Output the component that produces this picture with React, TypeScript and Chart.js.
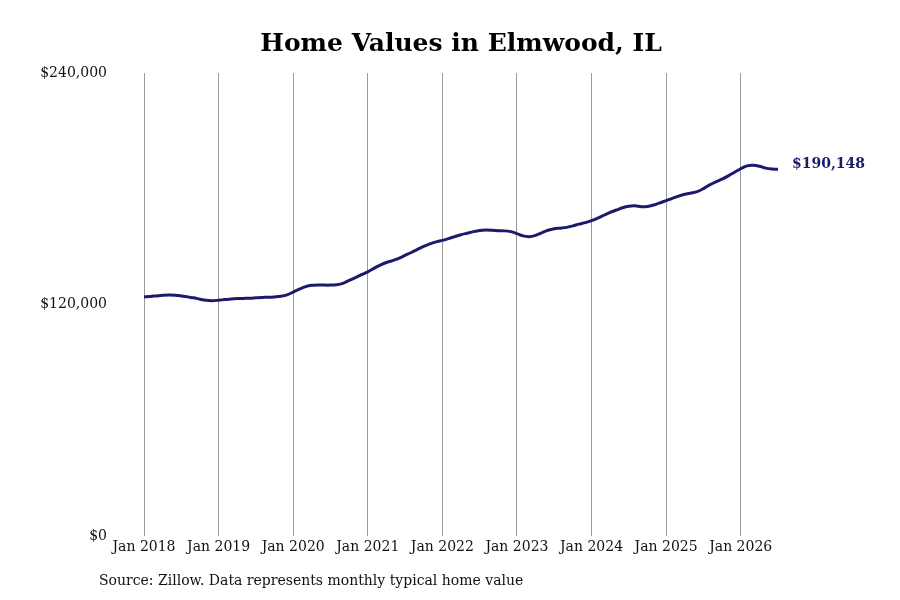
import { useEffect, useRef } from "react";
import { Chart, registerables } from "chart.js";

Chart.register(...registerables);

const startYear = 2018;
const monthNames = ["Jan", "Feb", "Mar", "Apr", "May", "Jun", "Jul", "Aug", "Sep", "Oct", "Nov", "Dec"];

// typical home value, thousands of dollars, Jan 2018 .. Jul 2026
const values2018 = [124.0, 124.2, 124.5, 124.8, 125.0, 124.9, 124.5, 124.0, 123.5, 122.8, 122.2, 122.0];
const values2019 = [122.3, 122.6, 122.9, 123.1, 123.2, 123.3, 123.5, 123.7, 123.8, 124.0, 124.3, 125.0];
const values2020 = [126.5, 128.0, 129.3, 130.0, 130.2, 130.1, 130.1, 130.3, 131.0, 132.5, 134.0, 135.5];
const values2021 = [137.0, 138.8, 140.5, 141.8, 142.8, 144.0, 145.5, 147.0, 148.6, 150.2, 151.5, 152.5];
const values2022 = [153.3, 154.2, 155.2, 156.2, 157.0, 157.8, 158.4, 158.6, 158.5, 158.3, 158.2, 157.8];
const values2023 = [156.8, 155.6, 155.2, 155.9, 157.2, 158.5, 159.3, 159.6, 160.0, 160.8, 161.7, 162.5];
const values2024 = [163.5, 164.8, 166.3, 167.8, 169.0, 170.2, 171.0, 171.2, 170.7, 170.8, 171.6, 172.7];
const values2025 = [173.9, 175.0, 176.2, 177.2, 177.8, 178.5, 180.1, 182.0, 183.6, 185.0, 186.7, 188.6];
const values2026 = [190.4, 191.9, 192.2, 191.7, 190.7, 190.2, 190.148];

const homeValues = [
  ...values2018, ...values2019, ...values2020, ...values2021, ...values2022,
  ...values2023, ...values2024, ...values2025, ...values2026,
].map((v) => Math.round(v * 1000));

const monthLabels = homeValues.map(
  (_, i) => `${monthNames[i % 12]} ${startYear + Math.floor(i / 12)}`
);

const yTicks = [0, 120000, 240000];

const title = "Home Values in Elmwood, IL";
const source = "Source: Zillow. Data represents monthly typical home value";

const lineColor = "#1c1a6b";
const fontFamily = "'DejaVu Serif', serif";

const fmt = (v: number) => "$" + v.toLocaleString("en-US");

// title over the plot area, label next to the final point, source note
const extrasPlugin = {
  id: "extras",
  afterDraw(chart: any) {
    const { ctx, chartArea } = chart;
    ctx.save();

    ctx.font = `bold 25px ${fontFamily}`;
    ctx.fillStyle = "#000";
    ctx.textAlign = "center";
    ctx.textBaseline = "middle";
    ctx.fillText(title, (chartArea.left + chartArea.right) / 2, 44);

    const meta = chart.getDatasetMeta(0);
    const last = meta.data[meta.data.length - 1];
    ctx.font = `bold 14px ${fontFamily}`;
    ctx.fillStyle = lineColor;
    ctx.textAlign = "left";
    ctx.fillText(fmt(homeValues[homeValues.length - 1]), last.x + 14, last.y - 5);

    ctx.font = `14px ${fontFamily}`;
    ctx.fillStyle = "#111";
    ctx.fillText(source, 99, 581);
    ctx.restore();
  },
};

export default function App() {
  const chartRef = useRef<HTMLCanvasElement>(null);
  const chartInstance = useRef<Chart | null>(null);

  useEffect(() => {
    if (!chartRef.current) return;
    const ctx = chartRef.current.getContext("2d");
    if (!ctx) return;

    if (chartInstance.current) {
      chartInstance.current.destroy();
    }

    chartInstance.current = new Chart(ctx, {
      type: "line",
      data: {
        labels: monthLabels,
        datasets: [
          {
            data: homeValues,
            borderColor: lineColor,
            borderWidth: 3,
            pointRadius: 0,
            tension: 0.3,
            fill: false,
          },
        ],
      },
      options: {
        animation: false,
        responsive: false,
        layout: { padding: { top: 73, right: 122, bottom: 41, left: 0 } },
        plugins: {
          legend: { display: false },
          tooltip: { enabled: false },
          title: { display: false },
        },
        scales: {
          x: {
            offset: false,
            grid: {
              color: (c: any) => (c.index % 12 === 0 ? "#999999" : "rgba(0,0,0,0)"),
              drawTicks: false,
              lineWidth: 1,
            },
            border: { display: false },
            ticks: {
              autoSkip: false,
              maxRotation: 0,
              minRotation: 0,
              padding: 3,
              color: "#111",
              font: { family: fontFamily, size: 14 },
              callback: (_v: any, i: number) => (i % 12 === 0 ? monthLabels[i] : ""),
            },
          },
          y: {
            min: 0,
            max: 240000,
            afterBuildTicks: (scale: any) => {
              scale.ticks = yTicks.map((value) => ({ value }));
            },
            afterFit: (scale: any) => {
              scale.width = 144;
            },
            grid: { display: false, drawTicks: false },
            border: { display: false },
            ticks: {
              padding: 37,
              color: "#111",
              font: { family: fontFamily, size: 14 },
              callback: (v: any) => fmt(Number(v)),
            },
          },
        },
      },
      plugins: [extrasPlugin],
    });

    return () => {
      if (chartInstance.current) {
        chartInstance.current.destroy();
        chartInstance.current = null;
      }
    };
  }, []);

  return (
    <div style={{ position: "absolute", left: 0, top: 0, width: 900, height: 600, background: "#fff" }}>
      <canvas ref={chartRef} width={900} height={600}></canvas>
    </div>
  );
}
